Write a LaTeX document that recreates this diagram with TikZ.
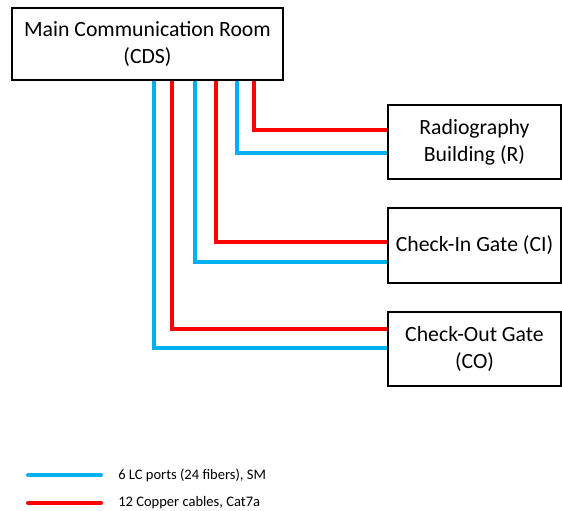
\documentclass[tikz,border=0pt]{standalone}
\usepackage{fontspec}
\setmainfont{Carlito}
\usepackage{xcolor}
\usetikzlibrary{positioning}
\definecolor{fiberblue}{HTML}{00B0F0}
\definecolor{copperred}{HTML}{FF0000}

\begin{document}
\begin{tikzpicture}[x=0.75pt, y=-0.75pt,
        % Define styles for the boxes and the cables
        room/.style={draw, line width=1.1pt, align=center, inner sep=0pt, font=\fontsize{16.3}{20}\selectfont},
        fiber/.style={draw=fiberblue, line width=3pt},
        copper/.style={draw=copperred, line width=3pt},
        legendtext/.style={anchor=west, inner sep=0pt, font=\fontsize{10.9}{13}\selectfont}]

        \useasboundingbox (0,0) rectangle (562,511);

        % 1. The rooms
        \node[room, minimum width=271*0.75pt, minimum height=72*0.75pt] (cds) at (147.5,44) {Main Communication Room\\(CDS)};
        \node[room, minimum width=173*0.75pt, minimum height=74*0.75pt] (r) at (474.5,142) {Radiography\\Building (R)};
        \node[room, minimum width=173*0.75pt, minimum height=75*0.75pt] (ci) at (474.5,245.5) {Check-In Gate (CI)};
        \node[room, minimum width=173*0.75pt, minimum height=74*0.75pt] (co) at (474.5,349) {Check-Out Gate\\(CO)};

        % 2. The cables, from the CDS down to each room
        \draw[copper] (cds.south -| 254,0) |- (r.west |- 0,130);
        \draw[fiber] (cds.south -| 237,0) |- (r.west |- 0,153);
        \draw[copper] (cds.south -| 216,0) |- (ci.west |- 0,242);
        \draw[fiber] (cds.south -| 195,0) |- (ci.west |- 0,262);
        \draw[copper] (cds.south -| 172,0) |- (co.west |- 0,329);
        \draw[fiber] (cds.south -| 154,0) |- (co.west |- 0,348);

        % 3. The legend
        \node[legendtext] (fibertext) at (118,475) {6 LC ports (24 fibers), SM};
        \node[legendtext] (coppertext) at (118,503) {12 Copper cables, Cat7a};
        \coordinate (fiberstart) at (28,475);
        \coordinate (copperstart) at (28,503);
        \draw[fiber, line cap=round] (fiberstart) -- ([xshift=-17*0.75pt]fibertext.west);
        \draw[copper, line cap=round] (copperstart) -- ([xshift=-17*0.75pt]coppertext.west);
    \end{tikzpicture}
\end{document}
